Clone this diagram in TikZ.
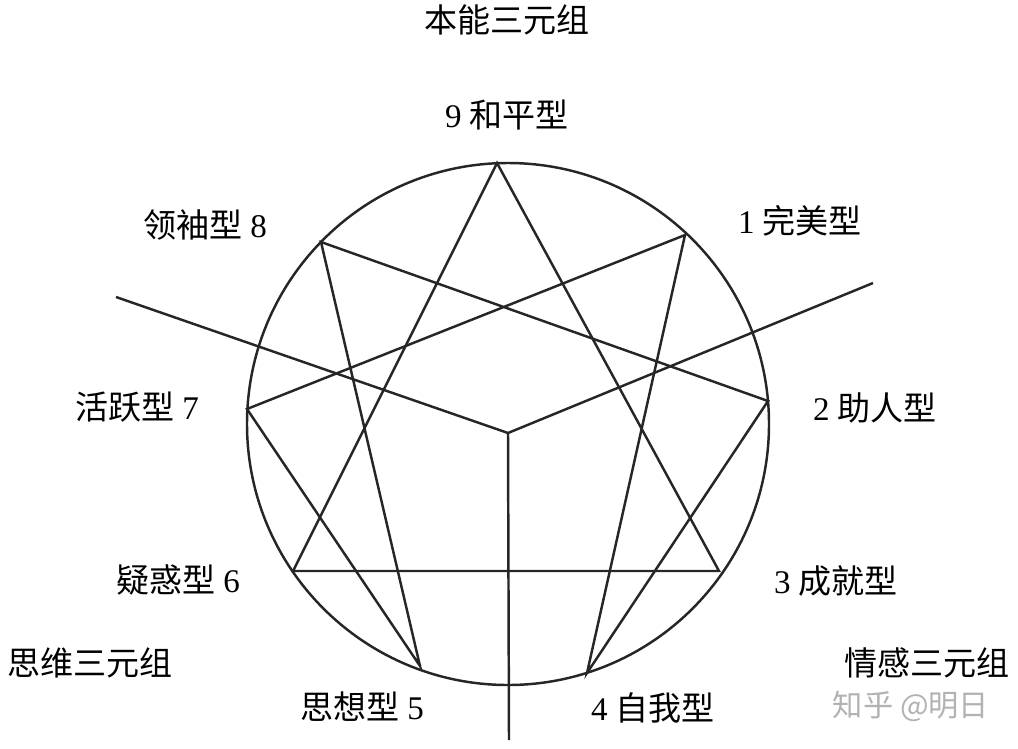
\documentclass[tikz,border=0pt]{standalone}
\usepackage{fontspec}
\setmainfont{Liberation Serif}
\newfontfamily\cjk{Noto Sans CJK SC}
\usetikzlibrary{positioning}

\begin{document}
\begin{tikzpicture}[
    x=0.01cm, y=-0.01cm,
    every node/.style={font=\fontsize{9.4}{11}\selectfont, inner sep=0pt},
    figline/.style={line width=0.7pt, black!85},
    typelabel/.style={anchor=center},
    watermark/.style={text=black!30, font=\fontsize{8.6}{10}\selectfont}
]
\useasboundingbox (0,0) rectangle (1018,748);

% Centre and the nine points on the circle
\coordinate (c) at (508,424);
\coordinate (p9) at (497,163);
\coordinate (p1) at (685,235);
\coordinate (p2) at (768,401);
\coordinate (p3) at (719,571);
\coordinate (p4) at (587,673);
\coordinate (p5) at (420,666);
\coordinate (p6) at (293,571);
\coordinate (p7) at (247,409);
\coordinate (p8) at (321,242);

% Circle
\draw[figline] (c) circle (261);

% Triangle 9-3-6
\draw[figline, line join=miter] (p9) -- (p3) -- (p6) -- cycle;

% Hexad 1-4-2-8-5-7-1
\draw[figline, line join=miter] (p1) -- (p4) -- (p2) -- (p8) -- (p5) -- (p7) -- cycle;

% Triad dividers
\coordinate (hub) at (508,433);
\coordinate (endL) at (116,297);
\coordinate (endR) at (873,283);
\coordinate (endB) at (509,740);
\draw[figline] (endL) -- (hub);
\draw[figline] (endR) -- (hub);
\draw[figline] (hub) -- (endB);

% Type labels
\node[typelabel] (t9) at (507,115) {9 {\cjk 和平型}};
\node[typelabel] (t1) at (800,221) {1 {\cjk 完美型}};
\node[typelabel] (t2) at (875,408) {2 {\cjk 助人型}};
\node[typelabel] (t3) at (836,581) {3 {\cjk 成就型}};
\node[typelabel] (t4) at (653,708) {4 {\cjk 自我型}};
\node[typelabel] (t5) at (362,707) {{\cjk 思想型} 5};
\node[typelabel] (t6) at (178,580) {{\cjk 疑惑型} 6};
\node[typelabel] (t7) at (137,407) {{\cjk 活跃型} 7};
\node[typelabel] (t8) at (205,225) {{\cjk 领袖型} 8};

% Triad names
\node[typelabel] (gut) at (507,20) {\cjk 本能三元组};
\node[typelabel] (head) at (90,663) {\cjk 思维三元组};
\node[typelabel] (heart) at (927,663) {\cjk 情感三元组};

% Watermark
\node[watermark] (wm) at (911,706) {\cjk 知乎 @明日};

\end{tikzpicture}
\end{document}
